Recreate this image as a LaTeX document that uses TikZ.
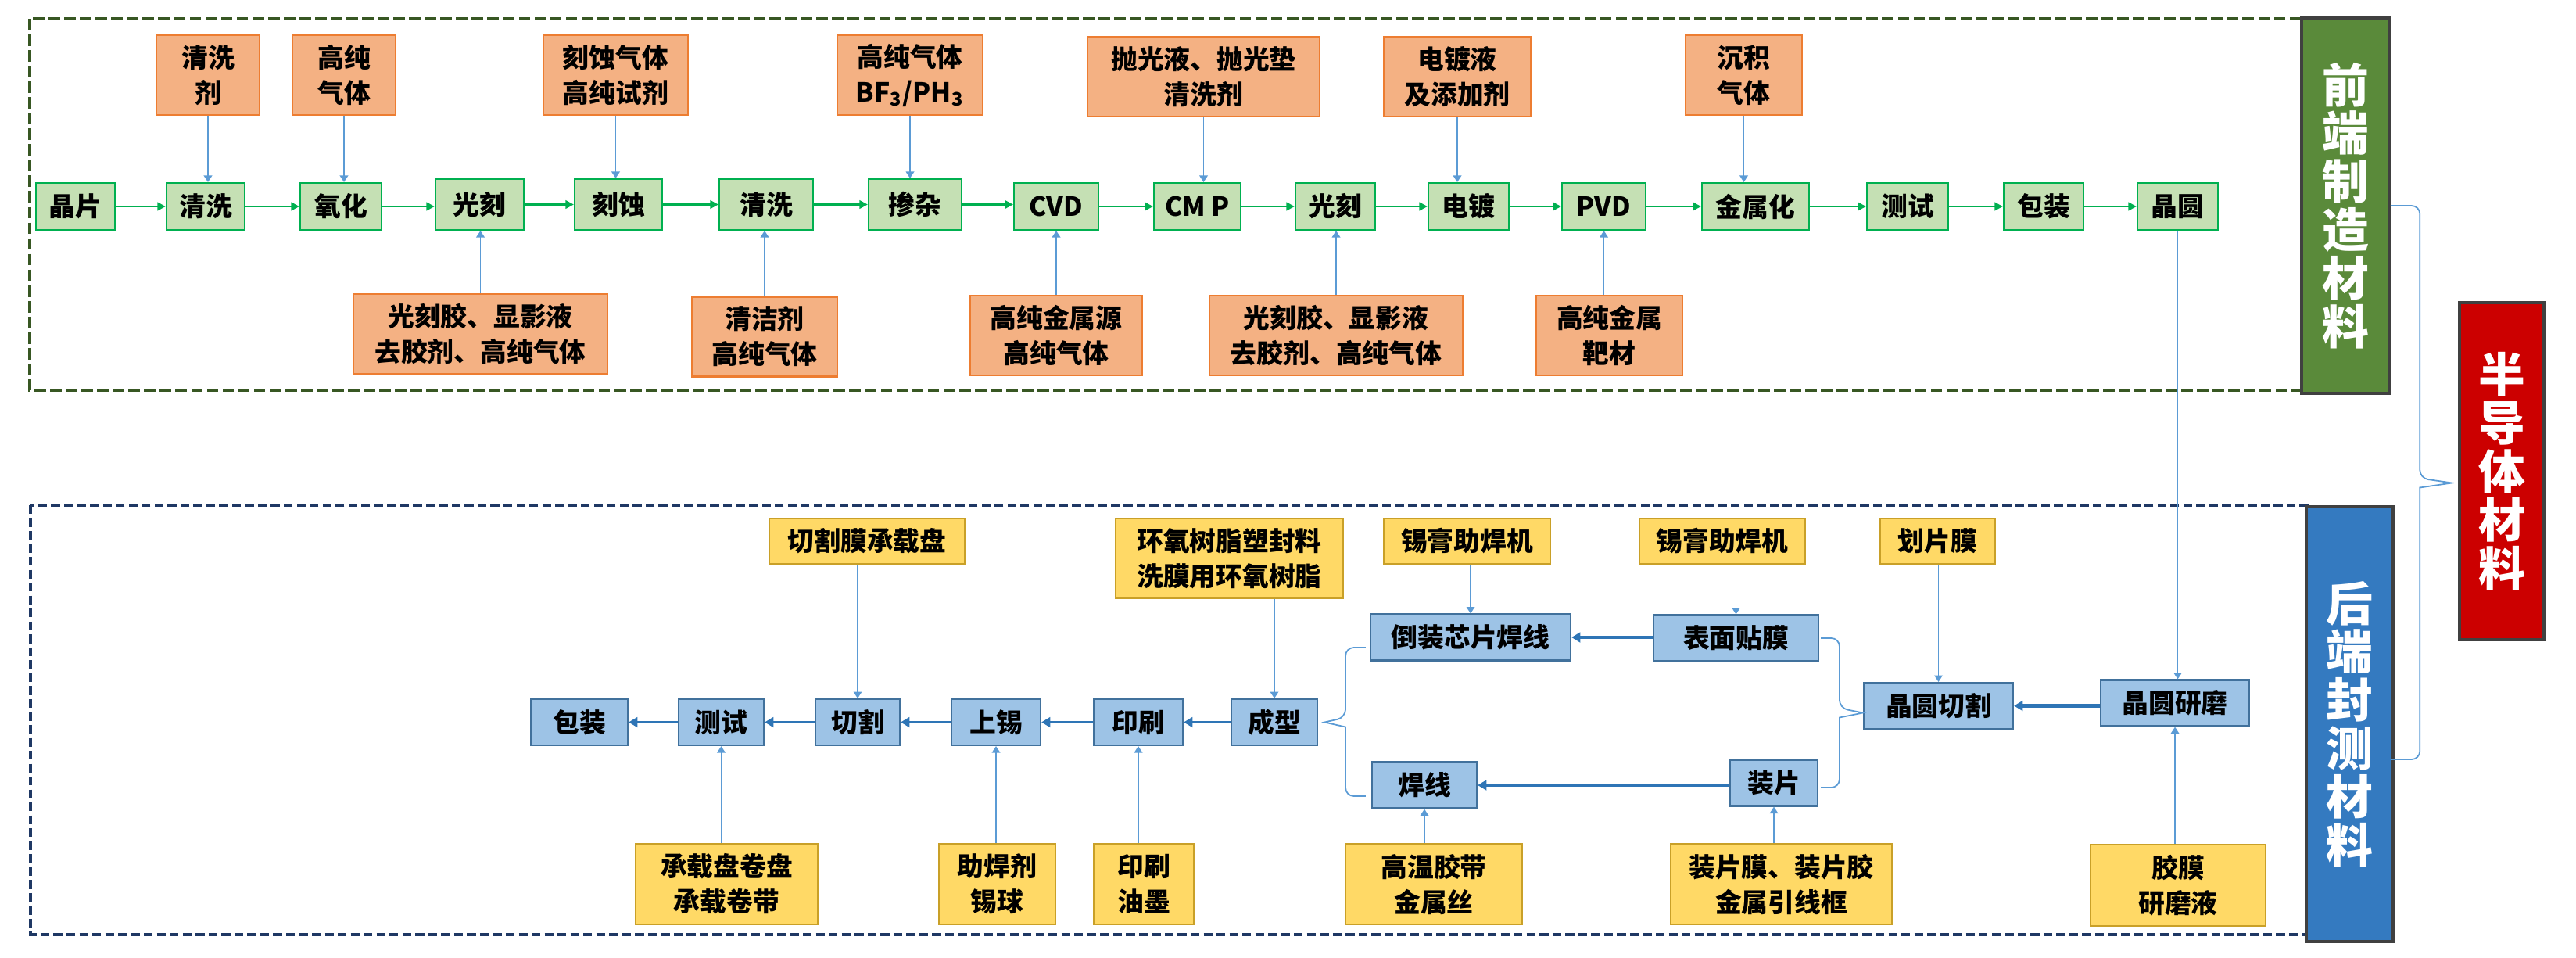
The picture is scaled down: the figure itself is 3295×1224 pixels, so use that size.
\documentclass[tikz,border=0pt]{standalone}
\usepackage{fontspec}
\setmainfont{Noto Sans CJK SC}
\usetikzlibrary{calc,arrows.meta}
\definecolor{gline}{RGB}{0,176,80}
\definecolor{gfill}{RGB}{197,224,180}
\definecolor{ofill}{RGB}{244,177,131}
\definecolor{oline}{RGB}{237,125,49}
\definecolor{yfill}{RGB}{255,217,102}
\definecolor{yline}{RGB}{201,160,40}
\definecolor{bfill}{RGB}{157,195,230}
\definecolor{bline}{RGB}{65,113,156}
\definecolor{thinblue}{RGB}{91,155,213}
\definecolor{flowblue}{RGB}{46,117,182}
\definecolor{framegreen}{RGB}{56,87,35}
\definecolor{framenavy}{RGB}{31,56,100}
\definecolor{labgreen}{RGB}{90,138,58}
\definecolor{labblue}{RGB}{52,122,192}
\definecolor{labred}{RGB}{204,0,0}

\begin{document}
\begin{tikzpicture}[x=0.01cm,y=-0.01cm,
	box/.style={draw,line width=0.6pt,inner sep=0pt,align=center,minimum height=0.60cm,
		font=\fontsize{9.6pt}{12.8pt}\selectfont\bfseries},
	gbox/.style={box,fill=gfill,draw=gline},
	obox/.style={box,fill=ofill,draw=oline,minimum height=1.02cm},
	bbox/.style={box,fill=bfill,draw=bline,minimum height=0.59cm},
	ybox/.style={box,fill=yfill,draw=yline,minimum height=0.58cm},
	label/.style={draw=black!75,line width=1pt,inner sep=0pt,align=center,text=white,
		font=\fontsize{17pt}{17.6pt}\selectfont\bfseries},
	gflow/.style={draw=gline,line width=0.7pt,>={Triangle[length=3pt,width=3pt]}},
	bflow/.style={draw=flowblue,line width=0.9pt,>={Triangle[length=3.2pt,width=3.6pt]}},
	feed/.style={draw=thinblue,line width=0.5pt,>={Triangle[length=2.4pt,width=3pt]}},
	]
	\useasboundingbox (0,0) rectangle (3295,1224);
	
	\draw[framegreen,line width=0.9pt,dash pattern=on 4.2pt off 1.5pt] (38,24) rectangle (2950,499);
	\draw[framenavy,line width=0.9pt,dash pattern=on 3.2pt off 1.5pt] (39,646) rectangle (2955,1195);
	
	\node[gbox,minimum width=1.01cm] (g1) at (96.5,264) {晶片};
	\node[gbox,minimum width=1.00cm] (g2) at (263,264) {清洗};
	\node[gbox,minimum width=1.04cm] (g3) at (436,264) {氧化};
	\node[gbox,minimum width=1.13cm,minimum height=0.65cm] (g4) at (613.5,261.5) {光刻};
	\node[gbox,minimum width=1.12cm,minimum height=0.65cm] (g5) at (791,261.5) {刻蚀};
	\node[gbox,minimum width=1.20cm,minimum height=0.65cm] (g6) at (980,261.5) {清洗};
	\node[gbox,minimum width=1.19cm,minimum height=0.65cm] (g7) at (1170.5,261.5) {掺杂};
	\node[gbox,minimum width=1.08cm] (g8) at (1351,264) {CVD};
	\node[gbox,minimum width=1.11cm] (g9) at (1531.5,264) {CM P};
	\node[gbox,minimum width=1.02cm] (g10) at (1708,264) {光刻};
	\node[gbox,minimum width=1.03cm] (g11) at (1878.5,264) {电镀};
	\node[gbox,minimum width=1.07cm] (g12) at (2051.5,264) {PVD};
	\node[gbox,minimum width=1.37cm] (g13) at (2245.5,264) {金属化};
	\node[gbox,minimum width=1.04cm] (g14) at (2440,264) {测试};
	\node[gbox,minimum width=1.02cm] (g15) at (2614,264) {包装};
	\node[gbox,minimum width=1.03cm] (g16) at (2785.5,264) {晶圆};
	
	\node[obox,minimum width=1.32cm] (o2) at (266,96) {清洗\\剂};
	\node[obox,minimum width=1.32cm] (o3) at (440,96) {高纯\\气体};
	\node[obox,minimum width=1.85cm] (o5) at (787.5,96) {刻蚀气体\\高纯试剂};
	\node[obox,minimum width=1.86cm] (o7) at (1164,96) {高纯气体\\BF\textsubscript{3}/PH\textsubscript{3}};
	\node[obox,minimum width=2.97cm] (o9) at (1539.5,98) {抛光液、抛光垫\\清洗剂};
	\node[obox,minimum width=1.88cm] (o11) at (1864,98) {电镀液\\及添加剂};
	\node[obox,minimum width=1.49cm] (o13) at (2230.5,96) {沉积\\气体};
	
	\node[obox,minimum width=3.25cm] (u4) at (614.5,427) {光刻胶、显影液\\去胶剂、高纯气体};
	\node[obox,minimum width=1.86cm] (u6) at (978,430.5) {清洁剂\\高纯气体};
	\node[obox,minimum width=2.20cm] (u8) at (1351,429) {高纯金属源\\高纯气体};
	\node[obox,minimum width=3.24cm] (u10) at (1709,429) {光刻胶、显影液\\去胶剂、高纯气体};
	\node[obox,minimum width=1.87cm] (u12) at (2058.5,429) {高纯金属\\靶材};
	
	\node[bbox,minimum width=1.24cm] (b1) at (741,923.5) {包装};
	\node[bbox,minimum width=1.09cm] (b2) at (922.5,923.5) {测试};
	\node[bbox,minimum width=1.08cm] (b3) at (1097,923.5) {切割};
	\node[bbox,minimum width=1.14cm] (b4) at (1274,923.5) {上锡};
	\node[bbox,minimum width=1.14cm] (b5) at (1456,923.5) {印刷};
	\node[bbox,minimum width=1.10cm] (b6) at (1630,923.5) {成型};
	\node[bbox,minimum width=2.56cm] (b7) at (1881,815) {倒装芯片焊线};
	\node[bbox,minimum width=2.11cm] (b8) at (2220.5,816) {表面贴膜};
	\node[bbox,minimum width=1.34cm] (b9) at (1822,1004) {焊线};
	\node[bbox,minimum width=1.12cm] (b10) at (2269,1001) {装片};
	\node[bbox,minimum width=1.91cm] (b11) at (2479.5,902.5) {晶圆切割};
	\node[bbox,minimum width=1.90cm] (b12) at (2782,899) {晶圆研磨};
	
	\node[ybox,minimum width=2.50cm] (y3) at (1109,692) {切割膜承载盘};
	\node[ybox,minimum width=2.91cm,minimum height=1.02cm] (y6) at (1572.5,714) {环氧树脂塑封料\\洗膜用环氧树脂};
	\node[ybox,minimum width=2.13cm] (y7) at (1876.5,692) {锡膏助焊机};
	\node[ybox,minimum width=2.12cm] (y8) at (2203,692) {锡膏助焊机};
	\node[ybox,minimum width=1.47cm] (y11) at (2478.5,692) {划片膜};
	
	\node[ybox,minimum width=2.33cm,minimum height=1.03cm] (z2) at (929.5,1130.5) {承载盘卷盘\\承载卷带};
	\node[ybox,minimum width=1.49cm,minimum height=1.03cm] (z4) at (1275.5,1130.5) {助焊剂\\锡球};
	\node[ybox,minimum width=1.28cm,minimum height=1.03cm] (z5) at (1463,1130.5) {印刷\\油墨};
	\node[ybox,minimum width=2.26cm,minimum height=1.03cm] (z9) at (1834,1130.5) {高温胶带\\金属丝};
	\node[ybox,minimum width=2.83cm,minimum height=1.03cm] (z10) at (2278.5,1130.5) {装片膜、装片胶\\金属引线框};
	\node[ybox,minimum width=2.24cm,minimum height=1.04cm] (z12) at (2786,1132) {胶膜\\研磨液};
	
	\node[label,fill=labgreen,minimum width=1.12cm,minimum height=4.80cm] (lf) at (3000,263) {前\\端\\制\\造\\材\\料};
	\node[label,fill=labblue,minimum width=1.11cm,minimum height=5.56cm] (lb) at (3005.5,926) {后\\端\\封\\测\\材\\料};
	\node[label,fill=labred,minimum width=1.08cm,minimum height=4.31cm] (lr) at (3200,602.5) {半\\导\\体\\材\\料};
	
	\draw[gflow,->] (g1.east) -- (g1.east -| g2.west);
	\draw[gflow,->] (g2.east) -- (g2.east -| g3.west);
	\draw[gflow,->] (g3.east) -- (g3.east -| g4.west);
	\draw[gflow,->] (g4.east) -- (g4.east -| g5.west);
	\draw[gflow,->] (g5.east) -- (g5.east -| g6.west);
	\draw[gflow,->] (g6.east) -- (g6.east -| g7.west);
	\draw[gflow,->] (g7.east) -- (g7.east -| g8.west);
	\draw[gflow,->] (g8.east) -- (g8.east -| g9.west);
	\draw[gflow,->] (g9.east) -- (g9.east -| g10.west);
	\draw[gflow,->] (g10.east) -- (g10.east -| g11.west);
	\draw[gflow,->] (g11.east) -- (g11.east -| g12.west);
	\draw[gflow,->] (g12.east) -- (g12.east -| g13.west);
	\draw[gflow,->] (g13.east) -- (g13.east -| g14.west);
	\draw[gflow,->] (g14.east) -- (g14.east -| g15.west);
	\draw[gflow,->] (g15.east) -- (g15.east -| g16.west);
	
	\draw[feed,->] (o2.south) -- (o2.south |- g2.north);
	\draw[feed,->] (o3.south) -- (o3.south |- g3.north);
	\draw[feed,->] (o5.south) -- (o5.south |- g5.north);
	\draw[feed,->] (o7.south) -- (o7.south |- g7.north);
	\draw[feed,->] (o9.south) -- (o9.south |- g9.north);
	\draw[feed,->] (o11.south) -- (o11.south |- g11.north);
	\draw[feed,->] (o13.south) -- (o13.south |- g13.north);
	\draw[feed,->] (u4.north) -- (u4.north |- g4.south);
	\draw[feed,->] (u6.north) -- (u6.north |- g6.south);
	\draw[feed,->] (u8.north) -- (u8.north |- g8.south);
	\draw[feed,->] (u10.north) -- (u10.north |- g10.south);
	\draw[feed,->] (u12.north -| g12.south) -- (g12.south);
	
	\draw[feed,->] (g16.south) -- (g16.south |- b12.north);
	
	\draw[bflow,->,line width=1.4pt] (b12.west |- b11.east) -- (b11.east);
	\draw[bflow,->] (b8.west |- b7.east) -- (b7.east);
	\draw[bflow,->] (b10.west |- b9.east) -- (b9.east);
	\draw[bflow,->] (b6.west) -- (b6.west -| b5.east);
	\draw[bflow,->] (b5.west) -- (b5.west -| b4.east);
	\draw[bflow,->] (b4.west) -- (b4.west -| b3.east);
	\draw[bflow,->] (b3.west) -- (b3.west -| b2.east);
	\draw[bflow,->] (b2.west) -- (b2.west -| b1.east);
	
	\draw[feed,->] (y3.south -| b3.north) -- (b3.north);
	\draw[feed,->] (y6.south -| b6.north) -- (b6.north);
	\draw[feed,->] (y7.south -| b7.north) -- (b7.north);
	\draw[feed,->] (y8.south -| b8.north) -- (b8.north);
	\draw[feed,->] (y11.south -| b11.north) -- (b11.north);
	\draw[feed,->] (z2.north -| b2.south) -- (b2.south);
	\draw[feed,->] (z4.north -| b4.south) -- (b4.south);
	\draw[feed,->] (z5.north -| b5.south) -- (b5.south);
	\draw[feed,->] (z9.north -| b9.south) -- (b9.south);
	\draw[feed,->] (z10.north -| b10.south) -- (b10.south);
	\draw[feed,->] (z12.north -| b12.south) -- (b12.south);
	
	\draw[feed,rounded corners=3pt] ($(b7.west)+(-5,13)$) -| ($(b6.east)+(35,-6)$) [sharp corners] -- ($(b6.east)+(8,0)$) -- ($(b6.east)+(35,6)$) [rounded corners=3pt] |- ($(b9.west)+(-7,14)$);
	\draw[feed,rounded corners=3pt] ($(b8.east)+(2,0)$) -| ($(b11.west)+(-30,3)$) [sharp corners] -- ($(b11.west)+(0,9)$) -- ($(b11.west)+(-30,15)$) [rounded corners=3pt] |- ($(b10.east)+(3,6)$);
	\draw[feed,rounded corners=3pt] (lf.east) -| ($(lr.west)+(-49,9)$) [sharp corners] -- ($(lr.west)+(-8,15)$) -- ($(lr.west)+(-49,21)$) [rounded corners=3pt] |- ($(lb.east)+(-5,45)$);
\end{tikzpicture}
\end{document}
